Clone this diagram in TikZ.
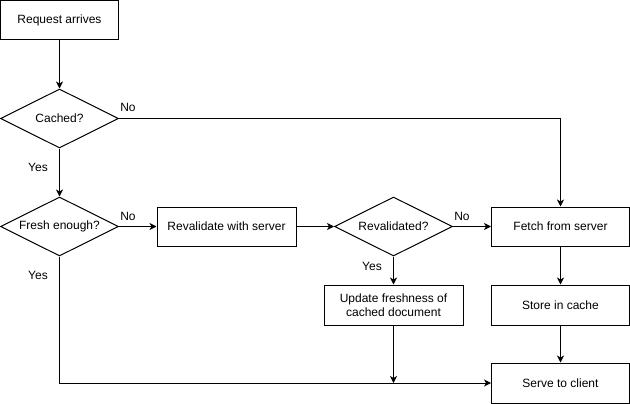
\documentclass[tikz,border=0pt]{standalone}
\usepackage{fontspec}
\setmainfont{Liberation Sans}
\usetikzlibrary{shapes.geometric,arrows.meta}
\begin{document}
\begin{tikzpicture}[x=1pt,y=-1pt,
  font=\fontsize{12}{14}\selectfont,
  box/.style={draw,line width=1pt,minimum width=139pt,minimum height=39pt,inner sep=0pt,align=center},
  dec/.style={draw,diamond,line width=1pt,minimum width=118pt,minimum height=59pt,inner sep=0pt,label={center:#1}},
  arr/.style={-{Stealth[length=7pt,width=7pt,inset=2pt]},line width=1pt},
  lab/.style={inner sep=0pt}]
\useasboundingbox (0,0) rectangle (630,404);
\node[box,minimum width=118pt] (req) at (59.5,20) {Request arrives};
\node[dec=Cached?] (cached) at (59.5,118.5) {};
\node[dec=Fresh enough?] (fresh) at (59.5,226.5) {};
\node[box] (reval) at (226.5,226.5) {Revalidate with server};
\node[dec=Revalidated?] (revd) at (393.5,226.5) {};
\node[box,minimum width=138pt] (fetch) at (560.5,226.5) {Fetch from server};
\node[box,minimum height=40pt] (update) at (393.5,305) {Update freshness of\\cached document};
\node[box,minimum width=138pt,minimum height=40pt] (store) at (560.5,305) {Store in cache};
\node[box,minimum width=138pt,minimum height=40pt] (serve) at (560.5,383) {Serve to client};
\coordinate (j) at (update.south |- serve.west);

\draw[arr] (req) -- (cached);
\draw[arr] (cached.east) -- (fetch.north |- cached.east) -- (fetch.north);
\draw[arr] (cached) -- (fresh);
\draw[arr] (fresh) -- (reval);
\draw[arr] (fresh.south) -- (fresh.south |- serve.west) -- (serve.west);
\draw[arr] (reval) -- (revd);
\draw[arr] (revd) -- (fetch);
\draw[arr] (revd) -- (update);
\draw[arr] (update.south) -- (j);
\draw[arr] (fetch) -- (store);
\draw[arr] (store) -- (serve);

\node[lab] (l1) at (128,107) {No};
\node[lab] (l2) at (38,167) {Yes};
\node[lab] (l3) at (128,216) {No};
\node[lab] (l4) at (38,275) {Yes};
\node[lab] (l5) at (462,216) {No};
\node[lab] (l6) at (372,266) {Yes};
\end{tikzpicture}
\end{document}
